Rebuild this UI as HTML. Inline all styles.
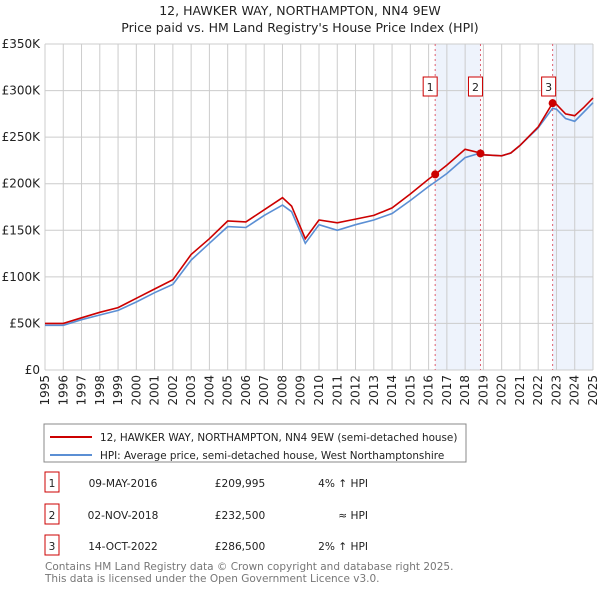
<!DOCTYPE html>
<html><head><meta charset="utf-8"><style>
body{margin:0;background:#fff;font-family:"Liberation Sans","DejaVu Sans",sans-serif;}
svg text{font-family:"DejaVu Sans","Liberation Sans",sans-serif;}
</style></head><body>
<svg id="c" width="600" height="590" xmlns="http://www.w3.org/2000/svg">
<text x="300" y="15" text-anchor="middle" font-size="12.5" fill="#222">12, HAWKER WAY, NORTHAMPTON, NN4 9EW</text>
<text x="300" y="32" text-anchor="middle" font-size="12.5" fill="#222">Price paid vs. HM Land Registry's House Price Index (HPI)</text>
<g id="shade"></g><g id="grid"></g><g id="axes"></g><g id="lines"></g><g id="marks"></g>
<rect x="44" y="424" width="422" height="38" fill="#fff" stroke="#888"/>
<line x1="50" y1="437" x2="92" y2="437" stroke="#cc0000" stroke-width="2"/>
<text x="100" y="441" font-size="10.4" fill="#222">12, HAWKER WAY, NORTHAMPTON, NN4 9EW (semi-detached house)</text>
<line x1="50" y1="455" x2="92" y2="455" stroke="#5b8fd4" stroke-width="2"/>
<text x="100" y="459" font-size="10.4" fill="#222">HPI: Average price, semi-detached house, West Northamptonshire</text>
<g id="table" font-size="11" fill="#222"></g>
<text x="45" y="570" font-size="10.5" fill="#777">Contains HM Land Registry data © Crown copyright and database right 2025.</text>
<text x="45" y="582" font-size="10.5" fill="#777">This data is licensed under the Open Government Licence v3.0.</text>
</svg>
<script>
const years=[1995,1996,1997,1998,1999,2000,2001,2002,2003,2004,2005,2006,2007,2008,2008.5,2009.25,2010,2011,2012,2013,2014,2015,2016,2016.36,2017,2018,2018.84,2019,2020,2020.5,2021,2022,2022.79,2023,2023.5,2024,2024.5,2025];
const hpiValues=[48,48,54,59,64,73,83,92,118,136,154,153,166,177,170,136,156,150,156,161,168,182,197,202,211,228,233,231,230,233,241,260,281,280,270,267,277,287];
const propValues=[50,50,56,62,67,77,87,97,124,141,160,159,172,185,176,141,161,158,162,166,174,189,205,210,220,237,233,231,230,233,241,261,286.5,285,275,273,282,292];
const saleYears=[2016.36,2018.84,2022.79];
const saleValues=[209.995,232.5,286.5];
const saleLabels=["1","2","3"];
const saleDates=["09-MAY-2016","02-NOV-2018","14-OCT-2022"];
const salePrices=["£209,995","£232,500","£286,500"];
const saleHpi=["4% ↑ HPI","≈ HPI","2% ↑ HPI"];
const yTicks=[0,50,100,150,200,250,300,350];
const yTickLabels=["£0","£50K","£100K","£150K","£200K","£250K","£300K","£350K"];
const xTicks=[1995,1996,1997,1998,1999,2000,2001,2002,2003,2004,2005,2006,2007,2008,2009,2010,2011,2012,2013,2014,2015,2016,2017,2018,2019,2020,2021,2022,2023,2024,2025];
const NS="http://www.w3.org/2000/svg";
const X=y=>45+(y-1995)*(548/30);
const Y=v=>370-v*(326/350);
function mk(t,a,p){const e=document.createElementNS(NS,t);for(const k in a)e.setAttribute(k,a[k]);document.getElementById(p).appendChild(e);return e;}
[[saleYears[0],saleYears[1]],[saleYears[2],2025]].forEach(s=>{
 const r=mk('rect',{x:X(s[0]),y:Y(350),width:X(s[1])-X(s[0]),height:Y(0)-Y(350),fill:'#eef3fc'},'shade');
 
 
});
yTicks.forEach((v,i)=>{
 const l=mk('line',{x1:45,x2:593,y1:Y(v),y2:Y(v),stroke:'#ccc'},'grid');
 
 
 const t=mk('text',{x:40,y:Y(v)+4,'text-anchor':'end','font-size':12,fill:'#222'},'axes');
 t.textContent=yTickLabels[i];
 
 
});
xTicks.forEach(yr=>{
 const l=mk('line',{x1:X(yr),x2:X(yr),y1:Y(350),y2:Y(0),stroke:'#ccc'},'grid');
 
 
 const t=mk('text',{x:0,y:0,'text-anchor':'end','font-size':12,fill:'#222',transform:`translate(${X(yr)+4},375) rotate(-90)`},'axes');
 t.textContent=yr;
 
 
});
saleYears.forEach((s,i)=>{
 const l=mk('line',{x1:X(s),x2:X(s),y1:Y(350),y2:Y(0),stroke:'#e06070','stroke-dasharray':'2,3'},'marks');
 
 
});
function path(vals,col,name){
 const d=years.map((y,i)=>(i?'L':'M')+X(y).toFixed(1)+','+Y(vals[i]).toFixed(1)).join(' ');
 const p=mk('path',{d:d,fill:'none',stroke:col,'stroke-width':1.6},'lines');
 
 
}
path(hpiValues,'#5b8fd4','hpi-line');
path(propValues,'#cc0000','property-price-line');
saleYears.forEach((s,i)=>{
 const c=mk('circle',{cx:X(s),cy:Y(saleValues[i]),r:4,fill:'#cc0000'},'marks');
 
 
 const bx=X(s)-(i==2?10:11);
 const r=mk('rect',{x:bx-1,y:77,width:14,height:19,fill:'#fff',stroke:'#cc0000'},'marks');
 
 
 const t=mk('text',{x:bx+6,y:91,'text-anchor':'middle','font-size':11,fill:'#222'},'marks');
 t.textContent=saleLabels[i];
 
 
});
const rowsY=[483,515,546];
saleLabels.forEach((lb,i)=>{
 const yy=rowsY[i];
 const r=mk('rect',{x:45,y:yy-11,width:14,height:20,fill:'#fff',stroke:'#cc0000'},'table');
 
 
 const cells=[[52,lb,'middle'],[123,saleDates[i],'middle'],[240,salePrices[i],'middle'],[368,saleHpi[i],'end']];
 cells.forEach(c=>{
  const t=mk('text',{x:c[0],y:yy+4,'text-anchor':c[2],'font-size':10.6,fill:'#222'},'table');
  t.textContent=c[1];
  
  
 });
});
</script>
</body></html>
